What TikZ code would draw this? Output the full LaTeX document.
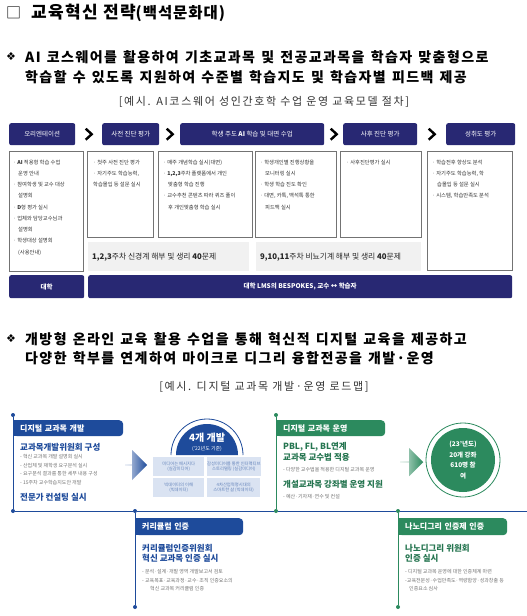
\documentclass[tikz,border=0pt]{standalone}
\usepackage{fontspec}
\setmainfont{Noto Sans CJK KR}
\newfontfamily\symfont{DejaVu Sans}
\usetikzlibrary{positioning,calc,shapes.arrows}

\definecolor{navy}{RGB}{40,40,115}
\definecolor{devblue}{RGB}{30,75,155}
\definecolor{opgreen}{RGB}{44,138,94}
\definecolor{lightblue}{RGB}{218,227,242}
\definecolor{boxgray}{RGB}{241,241,241}
\newcommand{\fs}[2]{\fontsize{#1}{#2}\selectfont}
\newcommand{\widesp}{\spaceskip=6.2pt\relax}

\begin{document}
\begin{tikzpicture}[
    x=1pt, y=-1pt,
    every node/.style={inner sep=0pt},
    txt/.style={anchor=west},
    heading/.style={txt, font=\bfseries\fs{14}{16}\addfontfeature{LetterSpace=10}\widesp},
    caption/.style={font=\fs{11}{12}\addfontfeature{LetterSpace=15}, text=black!80},
    hdr/.style={fill=navy, rounded corners=2pt, text=white, font=\fs{6.5}{8}, minimum height=22pt, anchor=north west},
    bar/.style={hdr, font=\bfseries\fs{6.5}{8}, minimum height=23pt},
    cbox/.style={draw=black!55, line width=.6pt, anchor=north west},
    ctext/.style={anchor=north west, align=left, font=\fs{5.3}{11.25}, text=black!80},
    gbox/.style={fill=boxgray, anchor=north west, minimum height=29pt},
    gtext/.style={txt, font=\fs{7.8}{9}, text=black!85},
    chev/.style={line width=2.4pt, miter limit=10},
    tab/.style={text=white, font=\bfseries\fs{8}{10}, anchor=north west, rounded corners=4pt,
      inner xsep=7pt, align=left, minimum height=16pt},
    sub/.style={txt, font=\bfseries\fs{8.5}{10.5}},
    note/.style={anchor=north west, align=left, font=\fs{5}{8.5}, text=black!55},
    lbox/.style={fill=lightblue, anchor=north west, minimum height=19pt, align=center,
      font=\fs{4.3}{5.5}, text=devblue!70},
    dot/.style={circle, fill, minimum size=4pt},
    bigarrow/.style={single arrow, single arrow head extend=6pt, minimum height=22pt, minimum width=30pt}
  ]
  \useasboundingbox[fill=white] (0,0) rectangle (527,616);

  \node[txt, font=\fs{15}{16}] (sq) at (6,13) {□};
  \node[txt, font=\bfseries\fs{17}{19}\addfontfeature{LetterSpace=8}] (title) at (31,13)
    {교육혁신 전략{\fs{15.5}{17}\addfontfeature{LetterSpace=6}(백석문화대)}};

  \node[txt] (b1) at (6,57) {\symfont\fs{11}{12}❖};
  \node[heading] (b1a) at (25,57) {AI 코스웨어를 활용하여 기초교과목 및 전공교과목을 학습자 맞춤형으로};
  \node[heading] (b1b) at (25,77) {학습할 수 있도록 지원하여 수준별 학습지도 및 학습자별 피드백 제공};
  \node[caption] (cap1) at (264,102) {[예시. AI코스웨어 성인간호학 수업 운영 교육모델 절차]};

  \node[hdr, minimum width=66pt] (h1) at (9,123) {오리엔테이션};
  \node[hdr, minimum width=57pt] (h2) at (102,123) {사전 진단 평가};
  \node[hdr, minimum width=144pt] (h3) at (180,123) {학생 주도 \textbf{AI} 학습 및 대면 수업};
  \node[hdr, minimum width=74pt] (h4) at (343,123) {사후 진단 평가};
  \node[hdr, minimum width=69pt] (h5) at (446,123) {성취도 평가};
  \foreach \a/\b in {h1/h2,h2/h3,h3/h4,h4/h5}
    \draw[chev] ($(\a.east)!.5!(\b.west)+(-3,-5.5)$) -- ++(6,5.5) -- ++(-6,5.5);

  \node[cbox, minimum width=74pt, minimum height=120pt] (c1) at (9,151) {};
  \node[cbox, minimum width=66pt, minimum height=86pt] (c2) at (87,151) {};
  \node[cbox, minimum width=94pt, minimum height=86pt] (c3) at (158,151) {};
  \node[cbox, minimum width=81pt, minimum height=86pt] (c4) at (255,151) {};
  \node[cbox, minimum width=81pt, minimum height=86pt] (c5) at (340,151) {};
  \node[cbox, minimum width=85pt, minimum height=119pt] (c6) at (427,151) {};

  \node[ctext] (t1) at ([shift={(4,8.5)}]c1.north west) {· \textbf{AI} 적용형 학습 수업\\
    \hspace{5pt}운영 안내\\· 참여학생 및 교수 대상\\\hspace{5pt}설명회\\· \textbf{D}형 평가 실시\\
    · 업체와 담당교수님과\\\hspace{5pt}설명회\\· 학생대상 설명회\\\hspace{5pt}(사용안내)};
  \node[ctext] (t2) at ([shift={(6,8.5)}]c2.north west) {· 첫주 사전 진단 평가\\· 자기주도 학습능력,\\
    학습몰입 등 설문 실시};
  \node[ctext] (t3) at ([shift={(5,8.5)}]c3.north west) {· 매주 개념학습 실시(대면)\\
    · \textbf{1,2,3}주차 플랫폼에서 개인\\\hspace{5pt}맞춤형 학습 진행\\
    · 교수추천 콘텐츠 따라 퀴즈 풀이\\\hspace{5pt}후 개인맞춤형 학습 실시};
  \node[ctext] (t4) at ([shift={(5,8.5)}]c4.north west) {· 학생개인별 진행상황을\\
    \hspace{5pt}모니터링 실시\\· 학생 학습 진도 확인\\· 대면, 카톡, 백석톡 통한\\\hspace{5pt}피드백 실시};
  \node[ctext] (t5) at ([shift={(6,8.5)}]c5.north west) {· 사후진단평가 실시};
  \node[ctext] (t6) at ([shift={(5,8.5)}]c6.north west) {· 학습전후 향상도 분석\\
    · 자기주도 학습능력, 학\\\hspace{5pt}습몰입 등 설문 실시\\· 시스템, 학습만족도 분석};

  \node[gbox, minimum width=161pt] (g1) at (88,242) {};
  \node[gbox, minimum width=165pt] (g2) at (256,242) {};
  \node[gtext] (gt1) at ([xshift=4]g1.west) {\textbf{1,2,3}주차 신경계 해부 및 생리 \textbf{40}문제};
  \node[gtext] (gt2) at ([xshift=4]g2.west) {\textbf{9,10,11}주차 비뇨기계 해부 및 생리 \textbf{40}문제};

  \node[bar, minimum width=75pt] (u1) at (9,275) {대학};
  \node[bar, minimum width=424pt] (u2) at (88,275) {대학 \textbf{LMS}의 \textbf{BESPOKES}, 교수 ↔ 학습자};

  \node[txt] (b2) at (6,339) {\symfont\fs{11}{12}❖};
  \node[heading] (b2a) at (25,339) {개방형 온라인 교육 활용 수업을 통해 혁신적 디지털 교육을 제공하고};
  \node[heading] (b2b) at (25,358) {다양한 학부를 연계하여 마이크로 디그리 융합전공을 개발·운영};
  \node[caption] (cap2) at (264,387) {[예시. 디지털 교과목 개발·운영 로드맵]};

  \node[dot, devblue] (p1) at (13,415) {};
  \node[dot, devblue] (p2) at (13,511) {};
  \node[dot, devblue] (p3) at (135,511) {};
  \node[dot, devblue] (p4) at (135,607) {};
  \node[dot, opgreen] (q1) at (276,415) {};
  \node[dot, opgreen] (q2) at (276,511) {};
  \node[dot, opgreen] (q3) at (398,511) {};
  \node[dot, opgreen] (q4) at (398,607) {};
  \coordinate (pend) at (527,511);
  \draw[devblue, line width=.9pt] (p1) -- (p2) -- (p3) -- (q2) -- (q3) -- (pend);
  \draw[devblue, line width=.9pt] (p3) -- (p4);
  \draw[opgreen, line width=.9pt] (q1) -- (q2);
  \draw[opgreen, line width=.9pt] (q3) -- (q4);

  \fill[devblue] (13,420) rectangle (22,436);
  \node[tab, fill=devblue, text width=96pt] (dev) at (13,420) {디지털 교과목 개발};
  \node[sub, text=devblue] (dev1) at (20,447) {교과목개발위원회 구성};
  \node[note] (dev2) at (20,454.5) {- 혁신 교과목 개발 설명회 실시\\- 산업체 및 재학생 요구분석 실시\\
    - 요구분석 결과를 통한 세부 내용 구성\\- 15주차 교수학습지도안 개발};
  \node[sub, text=devblue] (dev3) at (20,497) {전문가 컨설팅 실시};
  \node[bigarrow, left color=devblue!25, right color=devblue] (arr1) at (136,465) {};

  \coordinate (dc) at (207,455);
  \draw[devblue, line width=.8pt] ([xshift=-36pt]dc) arc[start angle=180, end angle=0, radius=36pt];
  \fill[devblue] ([xshift=-31pt]dc) arc[start angle=180, end angle=0, radius=31pt] -- cycle;
  \node[font=\bfseries\fs{10}{12}, text=white] (dome1) at (207,438) {4개 개발};
  \node[font=\fs{5}{6}, text=white] (dome2) at (207,448.5) {('22년도 기준)};
  \node[lbox, minimum width=51pt] (k1) at (153,457) {미디어는 메시지다\\(실감미디어)};
  \node[lbox, minimum width=53pt] (k2) at (207,457) {감성미디어를 통한 인터랙티브\\스토리텔링 (실감미디어)};
  \node[lbox, minimum width=51pt] (k3) at (153,478) {빅데이터의 이해\\(빅데이터)};
  \node[lbox, minimum width=53pt] (k4) at (207,478) {4차산업혁명시대의\\스마트한 삶 (빅데이터)};

  \fill[opgreen] (276,420) rectangle (285,436);
  \node[tab, fill=opgreen, text width=95pt] (ops) at (276,420) {디지털 교과목 운영};
  \node[sub, text=opgreen!85!black] (ops1) at (283,447) {PBL, FL, BL연계};
  \node[sub, text=opgreen!85!black] (ops2) at (283,457.5) {교과목 교수법 적용};
  \node[note, txt] (ops3) at (283,470) {- 다양한 교수법을 적용한 디지털 교과목 운영};
  \node[sub, text=opgreen!85!black] (ops4) at (283,484) {개설교과목 강좌별 운영 지원};
  \node[note, txt] (ops5) at (283,497) {- 예산·기자재·연수 및 컨설};
  \node[bigarrow, minimum height=23pt, minimum width=28pt, single arrow head extend=5.5pt,
    left color=opgreen!25, right color=opgreen] (arr2) at (411.5,462) {};

  \node[circle, fill=opgreen, minimum size=64pt] (res) at (463,460) {};
  \draw[opgreen, line width=.8pt] (res.center) circle[radius=37pt];
  \node[font=\bfseries\fs{6.5}{10.7}, text=white, align=center] (res1) at (res.center) {(23'년도)\\20개 강좌\\610명 참\\여};

  \fill[devblue] (135,518) rectangle (144,535);
  \node[tab, fill=devblue, text width=94pt, minimum height=17pt] (cur) at (135,518) {커리큘럼 인증};
  \node[sub, text=devblue] (cur1) at (142,548) {커리큘럼인증위원회};
  \node[sub, text=devblue] (cur2) at (142,558.5) {혁신 교과목 인증 실시};
  \node[note] (cur3) at (142,569.5) {- 분석·설계·개발 영역 개발보고서 검토\\- 교육목표·교육과정·교수·조직 인증요소의\\
    \hspace{8pt}혁신 교과목 커리큘럼 인증};

  \fill[opgreen] (398,518) rectangle (407,535);
  \node[tab, fill=opgreen, text width=95pt, minimum height=17pt] (nano) at (398,518) {나노디그리 인증제 인증};
  \node[sub, text=opgreen!85!black] (nano1) at (405,548) {나노디그리 위원회};
  \node[sub, text=opgreen!85!black] (nano2) at (405,558.5) {인증 실시};
  \node[note] (nano3) at (405,569.5) {- 디지털 교과목 운영에 대한 인증체계 마련\\-교육전문성·수업만족도·역량함양·성과창출 등\\
    \hspace{4pt}인증요소 심사};
\end{tikzpicture}
\end{document}
